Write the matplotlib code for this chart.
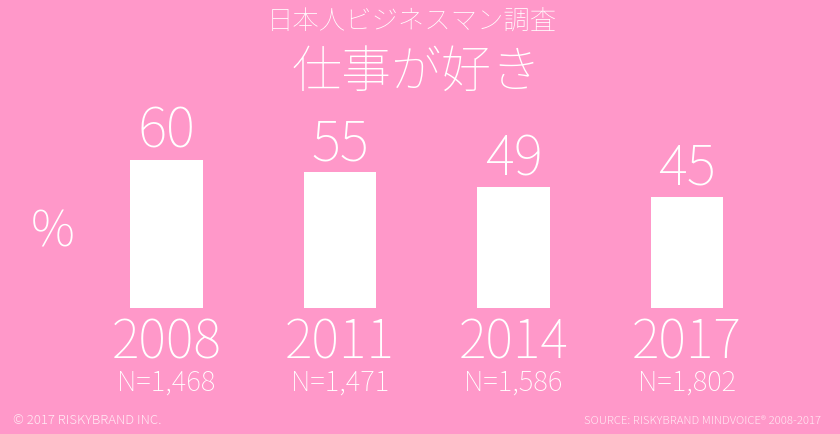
import matplotlib
matplotlib.use("Agg")
import matplotlib.pyplot as plt

years = ["2008", "2011", "2014", "2017"]
values = [60, 55, 49, 45]
samples = ["N=1,468", "N=1,471", "N=1,586", "N=1,802"]
title_small = "日本人ビジネスマン調査"
title_big = "仕事が好き"

BG = "#FF98C9"
FONT = ["Noto Sans CJK JP", "DejaVu Sans"]
W, H = 840, 435
THIN = 100

fig = plt.figure(figsize=(8.4, 4.35), dpi=100)
fig.patch.set_facecolor(BG)

# axes: y=0 at pixel 309 from top, 60 at pixel 161
left = 79.75 / W
bottom = (H - 309) / H
height = 148 / H
width = 694 / W
ax = fig.add_axes([left, bottom, width, height])
ax.set_facecolor(BG)
ax.set_xlim(-0.5, 3.5)
ax.set_ylim(0, 60)
ax.axis("off")

x = list(range(len(years)))
ax.bar(x, values, width=0.42, color="white", edgecolor="none")

for i, v in enumerate(values):
    ax.annotate(str(v), (i, v), xytext=(0, 9.4), textcoords="offset points",
                ha="center", va="baseline", color="white", fontsize=40,
                family=FONT, fontweight=THIN, annotation_clip=False)
    ax.annotate(years[i], (i, 0), xytext=(0, -35.3), textcoords="offset points",
                ha="center", va="baseline", color="white", fontsize=38,
                family=FONT, fontweight=THIN, annotation_clip=False)
    ax.annotate(samples[i], (i, 0), xytext=(0, -59), textcoords="offset points",
                ha="center", va="baseline", color="white", fontsize=20,
                family=FONT, fontweight=THIN, annotation_clip=False)

fig.text(412 / W, 1 - 21 / H, title_small, ha="center", va="center",
         color="white", fontsize=19, family=FONT, fontweight=THIN)
fig.text(417 / W, 1 - 73 / H, title_big, ha="center", va="center",
         color="white", fontsize=36, family=FONT, fontweight=THIN)
fig.text(52.5 / W, 1 - 233 / H, "%", ha="center", va="center",
         color="white", fontsize=36, family=FONT, fontweight=THIN)

fig.text(13 / W, 1 - 421 / H, "© 2017 RISKYBRAND INC.", ha="left", va="center",
         color="white", alpha=0.8, fontsize=9.5, family=FONT, fontweight=300)
fig.text(821 / W, 1 - 421 / H, "SOURCE: RISKYBRAND MINDVOICE® 2008-2017",
         ha="right", va="center", color="white", alpha=0.8, fontsize=8.2,
         family=FONT, fontweight=300)

fig.savefig("out.png", dpi=100, facecolor=BG)
